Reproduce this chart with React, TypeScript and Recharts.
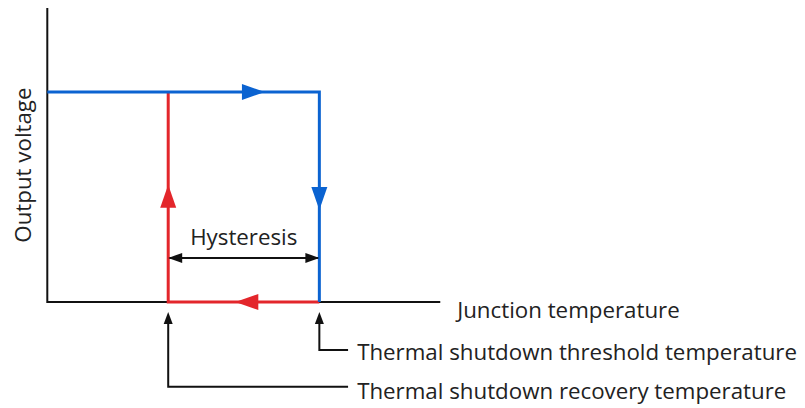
import React from "react";
import { ComposedChart, Line, Scatter, XAxis, YAxis } from "recharts";

// temperatures on an arbitrary scale, output level on an arbitrary scale
const recoveryT = 4;
const thresholdT = 9;
const highLevel = 5;

const axisPath = [
  { t: 0, v: 7 },
  { t: 0, v: 0 },
  { t: 13, v: 0 },
];
const bluePath = [
  { t: 0, v: highLevel },
  { t: thresholdT, v: highLevel },
  { t: thresholdT, v: 0 },
];
const redPath = [
  { t: thresholdT, v: 0 },
  { t: recoveryT, v: 0 },
  { t: recoveryT, v: highLevel },
];
const hysteresisPath = [
  { t: recoveryT, v: 1.05 },
  { t: thresholdT, v: 1.05 },
];
const thresholdLeader = [
  { t: thresholdT, v: -0.4 },
  { t: thresholdT, v: -1.14 },
  { t: 9.95, v: -1.14 },
];
const recoveryLeader = [
  { t: recoveryT, v: -0.4 },
  { t: recoveryT, v: -2.02 },
  { t: 9.95, v: -2.02 },
];

const arrowHeads = [
  { t: 7.2, v: highLevel, dir: "right", color: "#0b63d1", len: 23, half: 8 },
  { t: thresholdT, v: 2.19, dir: "down", color: "#0b63d1", len: 23, half: 8 },
  { t: 6.22, v: 0, dir: "left", color: "#e3262b", len: 23, half: 8 },
  { t: recoveryT, v: 2.79, dir: "up", color: "#e3262b", len: 23, half: 8 },
  { t: recoveryT, v: 1.05, dir: "left", color: "#111", len: 14, half: 5 },
  { t: thresholdT, v: 1.05, dir: "right", color: "#111", len: 14, half: 5 },
  { t: recoveryT, v: -0.24, dir: "up", color: "#111", len: 12, half: 4.5 },
  { t: thresholdT, v: -0.24, dir: "up", color: "#111", len: 12, half: 4.5 },
];

const labels = [
  { t: 6.5, v: 1.55, text: "Hysteresis", anchor: "middle", rotate: 0 },
  { t: 13.56, v: -0.19, text: "Junction temperature", anchor: "start", rotate: 0 },
  { t: 10.25, v: -1.19, text: "Thermal shutdown threshold temperature", anchor: "start", rotate: 0 },
  { t: 10.25, v: -2.1, text: "Thermal shutdown recovery temperature", anchor: "start", rotate: 0 },
  { t: -0.83, v: 3.26, text: "Output voltage", anchor: "middle", rotate: -90 },
];

const FONT = "'Open Sans', sans-serif";

const ArrowHead = (props: any) => {
  const { cx, cy, payload } = props;
  const { dir, color, len, half } = payload;
  let pts = "";
  if (dir === "right") pts = `${cx},${cy} ${cx - len},${cy - half} ${cx - len},${cy + half}`;
  if (dir === "left") pts = `${cx},${cy} ${cx + len},${cy - half} ${cx + len},${cy + half}`;
  if (dir === "up") pts = `${cx},${cy} ${cx - half},${cy + len} ${cx + half},${cy + len}`;
  if (dir === "down") pts = `${cx},${cy} ${cx - half},${cy - len} ${cx + half},${cy - len}`;
  return <polygon points={pts} fill={color} />;
};

const Label = (props: any) => {
  const { cx, cy, payload } = props;
  return (
    <text
      x={cx}
      y={cy}
      textAnchor={payload.anchor}
      dominantBaseline="central"
      transform={payload.rotate ? `rotate(${payload.rotate} ${cx} ${cy})` : undefined}
      fontFamily={FONT}
      fontSize={22.3}
      fill="#222"
    >
      {payload.text}
    </text>
  );
};

export default function App() {
  return (
    <div style={{ width: 797, height: 400 }}>
      <ComposedChart
        width={797}
        height={400}
        margin={{ top: 0, right: 2, bottom: 1, left: 0 }}
      >
        <XAxis type="number" dataKey="t" domain={[-1.3, 25]} hide allowDataOverflow />
        <YAxis type="number" dataKey="v" domain={[-2.5, 7]} hide allowDataOverflow />
        <Line data={axisPath} dataKey="v" type="linear" stroke="#111" strokeWidth={2} dot={false} isAnimationActive={false} />
        <Line data={thresholdLeader} dataKey="v" type="linear" stroke="#111" strokeWidth={2} dot={false} isAnimationActive={false} />
        <Line data={recoveryLeader} dataKey="v" type="linear" stroke="#111" strokeWidth={2} dot={false} isAnimationActive={false} />
        <Line data={hysteresisPath} dataKey="v" type="linear" stroke="#111" strokeWidth={2} dot={false} isAnimationActive={false} />
        <Line data={redPath} dataKey="v" type="linear" stroke="#e3262b" strokeWidth={3} dot={false} isAnimationActive={false} />
        <Line data={bluePath} dataKey="v" type="linear" stroke="#0b63d1" strokeWidth={3} dot={false} isAnimationActive={false} />
        <Scatter data={arrowHeads} dataKey="v" shape={ArrowHead} isAnimationActive={false} />
        <Scatter data={labels} dataKey="v" shape={Label} isAnimationActive={false} />
      </ComposedChart>
    </div>
  );
}
